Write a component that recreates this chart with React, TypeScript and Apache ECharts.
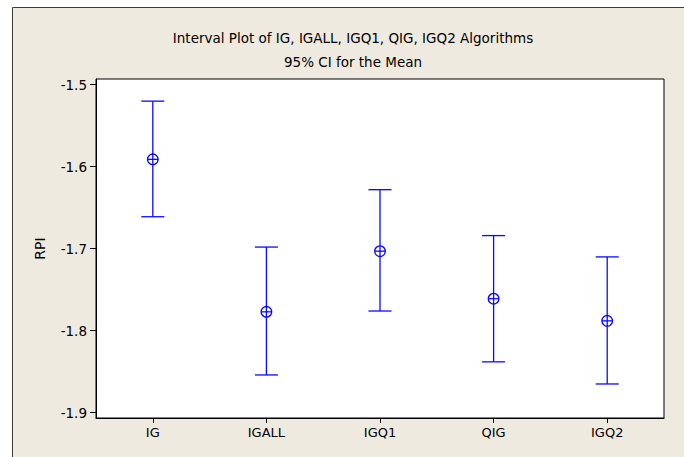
import React, { useEffect, useRef } from "react";
import * as echarts from "echarts";

const categories = ["IG", "IGALL", "IGQ1", "QIG", "IGQ2"];
const means = [-1.591, -1.777, -1.703, -1.761, -1.788];
const lowers = [-1.661, -1.854, -1.776, -1.838, -1.865];
const uppers = [-1.52, -1.698, -1.628, -1.684, -1.71];
const yTicks = [-1.9, -1.8, -1.7, -1.6, -1.5];
const titleLines = ["Interval Plot of IG, IGALL, IGQ1, QIG, IGQ2 Algorithms", "95% CI for the Mean"];

const FONT = "DejaVu Sans";
const BLUE = "#0a0aff";

export default function App() {
  const ref = useRef<HTMLDivElement>(null);
  useEffect(() => {
    const chart = echarts.init(ref.current!, null, { renderer: "svg" });
    const data = categories.map((c, i) => [i, means[i], lowers[i], uppers[i]]);
    chart.setOption({
      animation: false,
      backgroundColor: "#ffffff",
      graphic: [
        {
          type: "rect",
          z: -10,
          silent: true,
          shape: { x: 12.5, y: 7.5, width: 700, height: 500 },
          style: { fill: "#EEEAE0", stroke: "#3c3c3c", lineWidth: 1 },
        },
        {
          type: "text",
          x: 353,
          y: 38,
          style: {
            text: titleLines[0],
            align: "center",
            verticalAlign: "middle",
            fontSize: 13.5,
            fontFamily: FONT,
            fill: "#000",
          },
        },
        {
          type: "text",
          x: 353,
          y: 62,
          style: {
            text: titleLines[1],
            align: "center",
            verticalAlign: "middle",
            fontSize: 13.5,
            fontFamily: FONT,
            fill: "#000",
          },
        },
      ],
      grid: {
        left: 96,
        top: 79,
        right: 20,
        bottom: 39,
        show: true,
        backgroundColor: "#ffffff",
        borderColor: "#000",
        borderWidth: 1,
      },
      xAxis: {
        type: "category",
        data: categories,
        axisLine: { show: true, lineStyle: { color: "#000", width: 1 } },
        axisTick: { show: true, alignWithLabel: true, length: 5, lineStyle: { color: "#000" } },
        axisLabel: { color: "#000", fontSize: 13, fontFamily: FONT, margin: 8 },
        splitLine: { show: false },
      },
      yAxis: {
        type: "value",
        min: -1.9065,
        max: -1.493,
        name: "RPI",
        nameLocation: "middle",
        nameGap: 49,
        nameRotate: 90,
        nameTextStyle: { color: "#000", fontSize: 14, fontFamily: FONT },
        splitLine: { show: false },
        axisLine: { show: true, onZero: false, lineStyle: { color: "#000", width: 1 } },
        axisTick: { show: true, length: 6, customValues: yTicks, lineStyle: { color: "#000" } },
        axisLabel: {
          customValues: yTicks,
          color: "#000",
          fontSize: 13.5,
          fontFamily: FONT,
          margin: 9,
          formatter: (v: number) => v.toFixed(1),
        },
      },
      series: [
        {
          type: "custom",
          data,
          encode: { x: 0, y: [1, 2, 3] },
          renderItem: (params: any, api: any) => {
            const x = api.value(0);
            const pm = api.coord([x, api.value(1)]);
            const pl = api.coord([x, api.value(2)]);
            const ph = api.coord([x, api.value(3)]);
            const cap = 11.5;
            const r = 5.3;
            const st = { stroke: BLUE, lineWidth: 1.3, fill: "none" };
            return {
              type: "group",
              children: [
                { type: "line", shape: { x1: pl[0], y1: pl[1], x2: ph[0], y2: ph[1] }, style: st },
                { type: "line", shape: { x1: pl[0] - cap, y1: pl[1], x2: pl[0] + cap, y2: pl[1] }, style: st },
                { type: "line", shape: { x1: ph[0] - cap, y1: ph[1], x2: ph[0] + cap, y2: ph[1] }, style: st },
                { type: "circle", shape: { cx: pm[0], cy: pm[1], r }, style: { ...st, fill: "#fff" } },
                { type: "line", shape: { x1: pm[0] - r, y1: pm[1], x2: pm[0] + r, y2: pm[1] }, style: st },
                { type: "line", shape: { x1: pm[0], y1: pm[1] - r, x2: pm[0], y2: pm[1] + r }, style: st },
              ],
            };
          },
        },
      ],
    });
    return () => chart.dispose();
  }, []);
  return (
    <div
      ref={ref}
      style={{ position: "absolute", left: 0, top: 0, width: 684, height: 457 }}
    />
  );
}
